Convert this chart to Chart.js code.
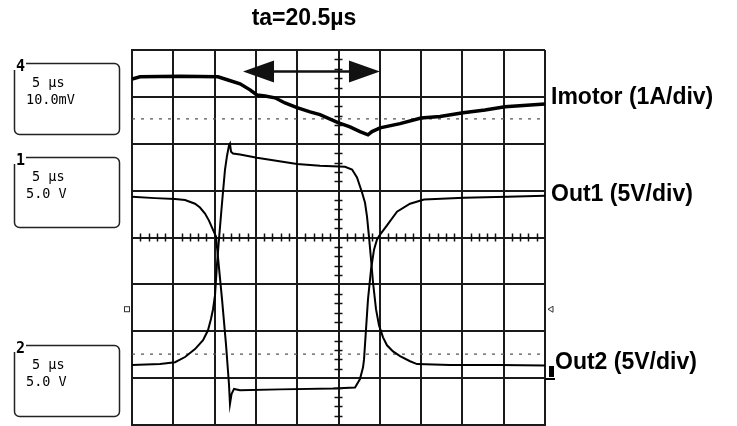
<!DOCTYPE html>
<html>
<head>
<meta charset="utf-8">
<script src="https://cdn.jsdelivr.net/npm/chart.js@4/dist/chart.umd.min.js"></script>
<style>
body{margin:0;background:#fff}
</style>
</head>
<body>
<canvas id="scope" width="737" height="426"></canvas>
<script>
// time in µs (5 µs/div), values in screen divisions (0 = centre line)
var imotorT = [0, 0.97, 5.81, 10.41, 11.62, 13.08, 14.29, 15.13, 16.10, 17.31, 18.52, 19.98, 21.55, 22.76, 24.94, 26.39, 27.60, 28.57, 29.06, 30.03, 32.45, 34.99, 37.29, 40.08, 42.74, 45.16, 50];
var imotorV = [3.38, 3.43, 3.44, 3.43, 3.36, 3.28, 3.15, 3.04, 3.02, 2.98, 2.87, 2.77, 2.68, 2.62, 2.45, 2.36, 2.26, 2.19, 2.26, 2.34, 2.43, 2.55, 2.58, 2.66, 2.72, 2.79, 2.85];

var out1T = [0, 2.78, 5.21, 6.42, 7.63, 8.23, 8.84, 9.32, 9.69, 10.17, 10.90, 11.38, 11.74, 11.86, 12.05, 12.35, 13.08, 17.92, 24.34, 27.00, 27.60, 27.97, 28.09, 28.33, 28.57, 28.94, 29.30, 29.66, 30.03, 30.87, 32.08, 33.66, 35.35, 40.20, 45.40, 50];
var out1V = [0.87, 0.84, 0.82, 0.80, 0.72, 0.64, 0.51, 0.36, 0.21, 0.02, -1.32, -2.28, -3.13, -3.55, -3.34, -3.23, -3.26, -3.24, -3.22, -3.20, -3.02, -2.77, -2.60, -1.96, -1.32, -0.68, -0.26, -0.04, 0.06, 0.26, 0.55, 0.72, 0.81, 0.85, 0.87, 0.89];

var out2T = [0, 3.39, 5.21, 6.42, 7.63, 8.60, 9.20, 9.56, 9.81, 10.05, 10.29, 10.53, 10.78, 11.02, 11.26, 11.50, 11.74, 11.86, 11.99, 12.23, 13.08, 15.13, 19.98, 22.76, 25.79, 26.64, 27.24, 27.85, 28.21, 28.45, 28.69, 28.94, 29.18, 29.54, 29.90, 30.39, 30.87, 31.60, 32.45, 33.66, 34.51, 38.50, 44.55, 50];
var out2V = [-2.72, -2.70, -2.66, -2.55, -2.38, -2.19, -1.98, -1.74, -1.53, -1.23, -0.57, -0.04, 0.49, 0.98, 1.45, 1.74, 1.96, 2.00, 1.83, 1.79, 1.77, 1.70, 1.57, 1.53, 1.51, 1.45, 1.28, 0.96, 0.74, 0.45, 0.02, -0.47, -0.96, -1.53, -1.87, -2.13, -2.30, -2.43, -2.53, -2.64, -2.70, -2.72, -2.72, -2.73];

// ground reference levels (dotted) and trigger level
var imotorRef = 2.53;
var out2Ref = -2.49;
var trigLevel = -1.53;

// arrow for ta
var arrowT = [13.44, 30.02];
var arrowY = 3.54;
var taText = 'ta=20.5µs';

var traceLabels = ['Imotor (1A/div)', 'Out1 (5V/div)', 'Out2 (5V/div)'];
var boxNums = ['4', '1', '2'];
var boxLines = [['5 µs', '10.0mV'], ['5 µs', '5.0 V'], ['5 µs', '5.0 V']];

function pts(t, v){
	var r = [];
	for (var i = 0; i < t.length; i++) r.push({x: t[i], y: v[i]});
	return r;
}

var scopeDecor = {
	id: 'scopeDecor',
	afterDraw: function(chart){
		var ctx = chart.ctx;
		var xs = chart.scales.x, ys = chart.scales.y;
		ctx.save();
		ctx.strokeStyle = '#111';
		ctx.fillStyle = '#111';
		ctx.lineWidth = 1.5;

		// minor ticks on the centre lines
		var y0 = ys.getPixelForValue(0);
		var x0 = xs.getPixelForValue(25);
		ctx.beginPath();
		for (var t = 1; t < 50; t++){
			if (t % 5 == 0) continue;
			var px = Math.round(xs.getPixelForValue(t)) + 0.5;
			ctx.moveTo(px, y0 - 4); ctx.lineTo(px, y0 + 4);
		}
		for (var k = -20; k <= 20; k++){
			if (k % 5 == 0) continue;
			var py = Math.round(ys.getPixelForValue(k / 5)) + 0.5;
			ctx.moveTo(x0 - 4, py); ctx.lineTo(x0 + 4, py);
		}
		ctx.stroke();

		// arrow
		var ax1 = xs.getPixelForValue(arrowT[0]);
		var ax2 = xs.getPixelForValue(arrowT[1]);
		var ay = ys.getPixelForValue(arrowY);
		ctx.lineWidth = 2.5;
		ctx.beginPath();
		ctx.moveTo(ax1 + 20, ay); ctx.lineTo(ax2 - 20, ay);
		ctx.stroke();
		ctx.beginPath();
		ctx.moveTo(ax1, ay); ctx.lineTo(ax1 + 31, ay - 11); ctx.lineTo(ax1 + 31, ay + 11); ctx.closePath();
		ctx.moveTo(ax2, ay); ctx.lineTo(ax2 - 31, ay - 11); ctx.lineTo(ax2 - 31, ay + 11); ctx.closePath();
		ctx.fill();

		// title and trace labels
		ctx.fillStyle = '#000';
		ctx.font = 'bold 23px "Liberation Sans", Arial, sans-serif';
		ctx.textAlign = 'center';
		ctx.textBaseline = 'middle';
		ctx.fillText(taText, 304, 19);
		ctx.textAlign = 'left';
		ctx.fillText(traceLabels[0], 551, 98);
		ctx.fillText(traceLabels[1], 551, 195);
		ctx.fillText(traceLabels[2], 555, 363);

		// channel boxes on the left
		var boxTops = [63, 157, 345];
		var boxH = [71, 70, 71];
		ctx.lineWidth = 1.5;
		ctx.strokeStyle = '#222';
		for (var b = 0; b < 3; b++){
			ctx.beginPath();
			ctx.roundRect(14.5, boxTops[b] + 0.5, 105, boxH[b], 5);
			ctx.stroke();
			ctx.fillStyle = '#fff';
			ctx.fillRect(13, boxTops[b] - 7, 13, 14);
			ctx.fillStyle = '#000';
			ctx.font = 'bold 15px "DejaVu Sans Mono", monospace';
			ctx.textAlign = 'left';
			ctx.textBaseline = 'alphabetic';
			ctx.fillText(boxNums[b], 16, boxTops[b] + 8);
			ctx.font = '13.5px "DejaVu Sans Mono", monospace';
			ctx.fillText(boxLines[b][0], 32, boxTops[b] + 24);
			ctx.fillText(boxLines[b][1], 26, boxTops[b] + 41);
		}

		// trigger level markers
		var ty = ys.getPixelForValue(trigLevel);
		var left = chart.chartArea.left, right = chart.chartArea.right;
		ctx.lineWidth = 1;
		ctx.strokeStyle = '#333';
		ctx.strokeRect(left - 7.5, ty - 2.5, 5, 5);
		ctx.beginPath();
		ctx.moveTo(right + 3, ty); ctx.lineTo(right + 8, ty - 3); ctx.lineTo(right + 8, ty + 3); ctx.closePath();
		ctx.stroke();

		// channel 2 ground marker
		ctx.fillStyle = '#000';
		ctx.fillRect(right + 4, 366, 5, 11);
		ctx.fillRect(right, 378, 10, 2);
		ctx.restore();
	}
};

var ctx = document.getElementById('scope').getContext('2d');
window.scopeChart = new Chart(ctx, {
	type: 'line',
	data: {
		datasets: [
			{ label: 'Imotor', data: pts(imotorT, imotorV), borderColor: '#000', borderWidth: 3.5 },
			{ label: 'Out1', data: pts(out1T, out1V), borderColor: '#000', borderWidth: 2 },
			{ label: 'Out2', data: pts(out2T, out2V), borderColor: '#000', borderWidth: 2 },
			{ label: 'ref4', data: [{x: 0, y: imotorRef}, {x: 50, y: imotorRef}], borderColor: '#555', borderWidth: 1.2, borderDash: [3, 6] },
			{ label: 'ref2', data: [{x: 0, y: out2Ref}, {x: 50, y: out2Ref}], borderColor: '#555', borderWidth: 1.2, borderDash: [3, 6] }
		]
	},
	options: {
		responsive: false,
		animation: false,
		events: [],
		layout: { padding: { left: 132, right: 192, top: 50, bottom: 1 } },
		elements: { point: { radius: 0 }, line: { tension: 0, fill: false } },
		plugins: { legend: { display: false }, tooltip: { enabled: false } },
		scales: {
			x: {
				type: 'linear', min: 0, max: 50,
				ticks: { display: false, stepSize: 5 },
				grid: { color: '#1a1a1a', lineWidth: 2, drawTicks: false },
				border: { display: true, color: '#1a1a1a', width: 2 }
			},
			y: {
				type: 'linear', min: -4, max: 4,
				ticks: { display: false, stepSize: 1 },
				grid: { color: '#1a1a1a', lineWidth: 2, drawTicks: false },
				border: { display: true, color: '#1a1a1a', width: 2 }
			}
		}
	},
	plugins: [scopeDecor]
});
</script>
</body>
</html>
